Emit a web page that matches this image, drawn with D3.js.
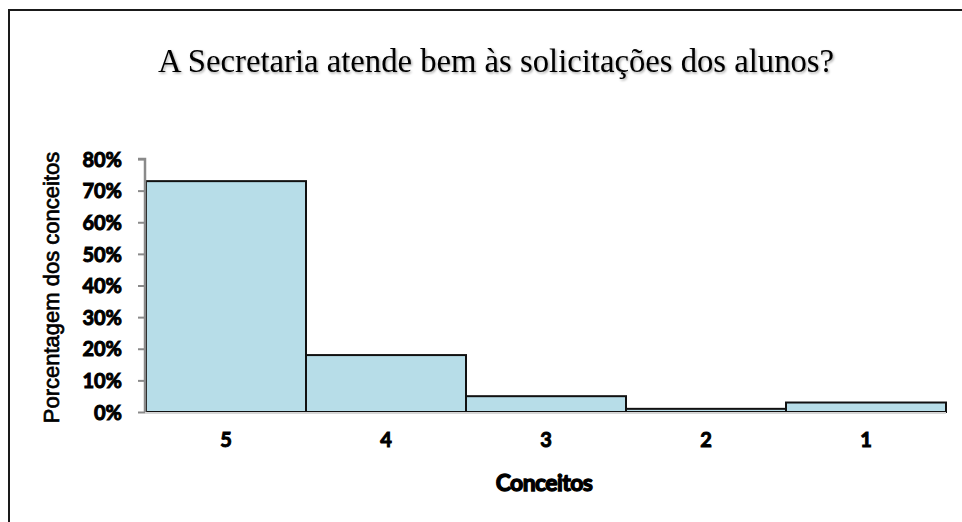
<!DOCTYPE html>
<html>
<head>
<meta charset="utf-8">
<script src="https://cdn.jsdelivr.net/npm/d3@7"></script>
<style>
  body { margin: 0; background: #fff; }
  svg { display: block; }
</style>
</head>
<body>
<script>
var width = 962,
    height = 522;

// data
var conceitos = ["5", "4", "3", "2", "1"];
var porcentagens = [0.73, 0.18, 0.05, 0.01, 0.03];
var yTicks = [0, 0.1, 0.2, 0.3, 0.4, 0.5, 0.6, 0.7, 0.8];

var titulo = "A Secretaria atende bem às solicitações dos alunos?";
var tituloY = "Porcentagem dos conceitos";
var tituloX = "Conceitos";

var margin = {top: 159, right: 16, bottom: 110, left: 146};

var svg = d3.select("body").append("svg")
    .attr("width", width)
    .attr("height", height);

// shadow for the title
var defs = svg.append("defs");
var f = defs.append("filter").attr("id", "sombra")
    .attr("x", "-5%").attr("y", "-20%").attr("width", "110%").attr("height", "150%");
f.append("feDropShadow")
    .attr("dx", 1.2).attr("dy", 1.5).attr("stdDeviation", 1)
    .attr("flood-color", "#000").attr("flood-opacity", 0.35);

// outer frame (runs off the right and bottom edges)
svg.append("rect")
    .attr("x", 9).attr("y", 10)
    .attr("width", 1000).attr("height", 600)
    .attr("fill", "none")
    .attr("stroke", "#1a1a1a")
    .attr("stroke-width", 2);

var x = d3.scaleBand()
    .domain(conceitos)
    .range([margin.left, width - margin.right])
    .padding(0);

var y = d3.scaleLinear()
    .domain([0, 0.8])
    .range([height - margin.bottom, margin.top]);

// bars
svg.append("g").selectAll("rect")
    .data(porcentagens)
    .enter().append("rect")
    .attr("x", function(d, i) { return x(conceitos[i]); })
    .attr("y", function(d) { return y(d); })
    .attr("width", x.bandwidth())
    .attr("height", function(d) { return y(0) - y(d); })
    .attr("fill", "#b7dde8")
    .attr("stroke", "#111")
    .attr("stroke-width", 2);

// bottom axis line (light gray)
svg.append("line")
    .attr("x1", margin.left - 1).attr("x2", width - margin.right)
    .attr("y1", y(0) + 1).attr("y2", y(0) + 1)
    .attr("stroke", "#d6d6d6")
    .attr("stroke-width", 2);

var fonteNum = "Lato, 'Liberation Sans', sans-serif";

// y axis
var yAxis = svg.append("g")
    .attr("transform", "translate(" + (margin.left - 1) + ",0)")
    .call(d3.axisLeft(y).tickValues(yTicks).tickSize(7).tickPadding(16)
        .tickFormat(d3.format(".0%")));
yAxis.select(".domain")
    .attr("stroke", "#8a8a8a")
    .attr("stroke-width", 2.5)
    .attr("d", "M-7," + y(0.8) + "H0V" + y(0));
yAxis.selectAll(".tick line")
    .attr("stroke", "#8a8a8a")
    .attr("stroke-width", 2);
yAxis.selectAll(".tick text")
    .attr("fill", "#000")
    .attr("stroke", "#000")
    .attr("stroke-width", 1)
    .attr("dy", "0.36em")
    .style("font-family", fonteNum)
    .style("font-weight", "bold")
    .style("font-size", "20px");

// x axis labels
var xAxis = svg.append("g")
    .attr("transform", "translate(0," + y(0) + ")")
    .call(d3.axisBottom(x).tickSize(0).tickPadding(21));
xAxis.select(".domain").remove();
xAxis.selectAll(".tick text")
    .attr("fill", "#000")
    .attr("stroke", "#000")
    .attr("stroke-width", 1)
    .style("font-family", fonteNum)
    .style("font-weight", "bold")
    .style("font-size", "20px");

// title
svg.append("text")
    .attr("x", 496)
    .attr("y", 72)
    .attr("text-anchor", "middle")
    .attr("filter", "url(#sombra)")
    .style("font-family", "'Liberation Serif', 'Times New Roman', serif")
    .style("font-size", "32.7px")
    .attr("fill", "#000")
    .text(titulo);

// axis titles
svg.append("text")
    .attr("transform", "translate(59," + ((y(0) + y(0.8)) / 2 + 2) + ") rotate(-90)")
    .attr("text-anchor", "middle")
    .attr("fill", "#000")
    .attr("stroke", "#000")
    .attr("stroke-width", 0.7)
    .style("font-family", "'Liberation Sans', Arial, sans-serif")
    .style("font-size", "22px")
    .text(tituloY);

svg.append("text")
    .attr("x", 544)
    .attr("y", 491)
    .attr("text-anchor", "middle")
    .attr("fill", "#000")
    .attr("stroke", "#000")
    .attr("stroke-width", 1.3)
    .style("font-family", fonteNum)
    .style("font-weight", "bold")
    .style("font-size", "23px")
    .style("letter-spacing", "-0.6px")
    .text(tituloX);
</script>
</body>
</html>
